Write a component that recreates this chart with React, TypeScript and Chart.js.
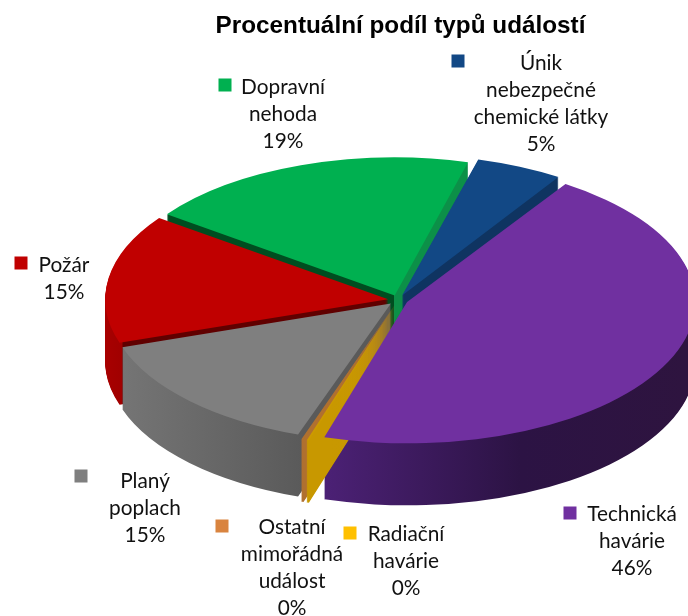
import React, { useEffect, useRef } from "react";
import { Chart, registerables } from "chart.js";

Chart.register(...registerables);

const title = "Procentuální podíl typů událostí";
const categories = ["Dopravní nehoda", "Únik nebezpečné chemické látky", "Technická havárie", "Radiační havárie", "Ostatní mimořádná událost", "Planý poplach", "Požár"];
const values = [19.2, 5.0, 45.5, 0.3, 0.3, 14.6, 15.1];
const topColors = ["#00B050", "#124885", "#7030A0", "#CC9A00", "#B0702F", "#7F7F7F", "#C00000"];
const markerColors = ["#00B050", "#124885", "#7030A0", "#FFC000", "#D9843F", "#7F7F7F", "#C00000"];
const labelLines = [
  ["Dopravní", "nehoda"],
  ["Únik", "nebezpečné", "chemické látky"],
  ["Technická", "havárie"],
  ["Radiační", "havárie"],
  ["Ostatní", "mimořádná", "událost"],
  ["Planý", "poplach"],
  ["Požár"],
];
// [marker x, marker y, text centre x, first line y]
const labelPlaces = [
  [225, 85, 283, 87],
  [458, 61, 541, 63],
  [570, 513, 632, 514],
  [350, 533, 406, 534],
  [222, 526, 292, 527],
  [81, 476, 145, 481],
  [21, 263, 64, 265],
];
const wallStops: [number, string][][] = [
  [[165, "#004d20"], [394, "#004d20"], [394, "#0c9048"], [470, "#0c9048"]],
  [[400, "#0f3461"], [560, "#0f3461"]],
  [[322, "#4c2176"], [520, "#2c1344"], [688, "#2e143f"]],
  [[290, "#c89800"], [330, "#c89800"]],
  [[290, "#b0702f"], [330, "#b0702f"]],
  [[120, "#757575"], [303, "#5a5a5a"]],
  [[105, "#a80000"], [122, "#a00000"], [123, "#600000"], [395, "#600000"]],
];

const CENTER_X = 398;
const CENTER_Y = 300;
const RADIUS = 281;
const TILT = 0.49;
const DEPTH = 62;
const ARC_OFFSET = 40;

const pie3d = {
  id: "pie3d",
  beforeDatasetsDraw(chart: any) {
    const ctx = chart.ctx;
    const arcs = chart.getDatasetMeta(0).data as any[];
    const cx = arcs[0].x;
    const cy = arcs[0].y;
    const tx = CENTER_X - cx;
    const tilt = () => {
      ctx.translate(cx, cy);
      ctx.scale(1, TILT);
      ctx.translate(-cx, -cy);
    };
    const order = arcs
      .map((a, i) => ({ a, i, s: Math.sin((a.startAngle + a.endAngle) / 2) }))
      .sort((p, q) => p.s - q.s);
    for (const { a, i } of order) {
      const stops = wallStops[i];
      // the arc shifts the context by its explosion offset before it fills
      const shift = tx + Math.cos((a.startAngle + a.endAngle) / 2) * (ARC_OFFSET / 4);
      const x0 = stops[0][0] - shift;
      const x1 = stops[stops.length - 1][0] - shift;
      const grad = ctx.createLinearGradient(x0, 0, x1, 0);
      for (const [x, c] of stops) grad.addColorStop((x - shift - x0) / (x1 - x0), c);
      const saved = a.options;
      a.options = { ...saved, backgroundColor: grad, borderWidth: 0 };
      for (let d = DEPTH; d >= 1; d--) {
        ctx.save();
        ctx.translate(tx, CENTER_Y - cy + d);
        tilt();
        a.draw(ctx);
        ctx.restore();
      }
      a.options = saved;
    }
    ctx.save();
    ctx.translate(tx, CENTER_Y - cy);
    tilt();
  },
  afterDatasetsDraw(chart: any) {
    chart.ctx.restore();
  },
  afterDraw(chart: any) {
    const ctx = chart.ctx;
    const total = values.reduce((s, v) => s + v, 0);
    ctx.save();
    ctx.font = "20.8px Lato";
    ctx.textAlign = "center";
    ctx.textBaseline = "middle";
    categories.forEach((_, i) => {
      const [mx, my, tx, ty] = labelPlaces[i];
      ctx.fillStyle = markerColors[i];
      ctx.fillRect(mx - 6.5, my - 6.5, 13, 13);
      ctx.fillStyle = "#111111";
      const lines = [...labelLines[i], Math.round((values[i] / total) * 100) + "%"];
      lines.forEach((l, k) => ctx.fillText(l, tx, ty + k * 27.2));
    });
    ctx.restore();
  },
};

export default function App() {
  const ref = useRef<HTMLCanvasElement>(null);
  useEffect(() => {
    const chart = new Chart(ref.current!, {
      type: "pie",
      data: {
        labels: categories,
        datasets: [
          {
            data: values,
            backgroundColor: topColors,
            borderWidth: 0,
            offset: ARC_OFFSET,
            radius: RADIUS,
            clip: false,
          } as any,
        ],
      },
      options: {
        animation: false,
        responsive: false,
        rotation: 306,
        layout: { padding: { left: 113, top: 12 } },
        plugins: {
          legend: { display: false },
          tooltip: { enabled: false },
          title: {
            display: true,
            text: title,
            fullSize: false,
            color: "#000000",
            font: { family: "'Liberation Sans'", size: 24.3, weight: "bold" },
            padding: 0,
          },
        },
      } as any,
      plugins: [pie3d],
    });
    return () => chart.destroy();
  }, []);
  return (
    <div style={{ position: "absolute", left: 0, top: 0, width: 688, height: 616, background: "#fff" }}>
      <canvas ref={ref} width={688} height={616} style={{ display: "block" }} />
    </div>
  );
}
